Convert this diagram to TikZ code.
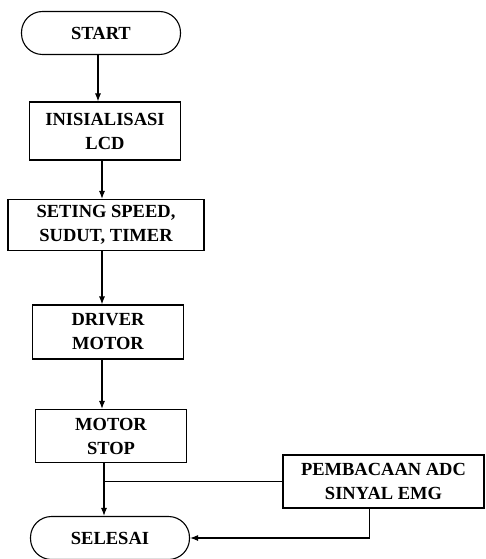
\documentclass[tikz,border=0pt]{standalone}
\usepackage{fontspec}
\setmainfont{Liberation Serif}
\usetikzlibrary{arrows.meta}

\tikzset{
    proses/.style = {draw, line width=1.1pt, align=center, inner sep=0pt,
                     font=\fontsize{18.5}{24}\selectfont\bfseries},
    terminal/.style = {proses, rounded corners=21pt, minimum width=159pt, minimum height=43pt},
    panah/.style = {line width=1.1pt, -{Latex[length=8pt,width=6pt]}}
}

\begin{document}
\begin{tikzpicture}[x=1pt, y=-1pt]
    \useasboundingbox (0,0) rectangle (485,559);

    % Terminal
    \node[terminal] (start) at (101,33) {START};
    \node[terminal] (selesai) at (110,538) {SELESAI};

    % Proses
    \node[proses, minimum width=151pt, minimum height=58pt] (inisial) at (105,131) {INISIALISASI\\LCD};
    \node[proses, minimum width=196pt, minimum height=51pt] (seting) at (106,225) {SETING SPEED,\\SUDUT, TIMER};
    \node[proses, minimum width=151pt, minimum height=54pt] (driver) at (108,332) {DRIVER\\MOTOR};
    \node[proses, minimum width=151pt, minimum height=53pt] (stop) at (111,436) {MOTOR\\STOP};
    \node[proses, minimum width=201pt, minimum height=53pt] (adc) at (383.5,481.5) {PEMBACAAN ADC\\SINYAL EMG};

    % Alur
    \draw[panah] ([xshift=-3pt]start.south) -- ([xshift=-3pt]start.south |- inisial.north);
    \draw[panah] ([xshift=-3pt]inisial.south) -- ([xshift=-3pt]inisial.south |- seting.north);
    \draw[panah] ([xshift=-4pt]seting.south) -- ([xshift=-4pt]seting.south |- driver.north);
    \draw[panah] ([xshift=-6pt]driver.south) -- ([xshift=-6pt]driver.south |- stop.north);
    \draw[panah] ([xshift=-7pt]stop.south) -- ([xshift=-7pt]stop.south |- selesai.north);
    \draw[line width=1.1pt] ([xshift=-7pt]stop.south |- adc.west) -- (adc.west);
    \draw[panah] ([xshift=-14pt]adc.south) |- (selesai.east);
\end{tikzpicture}
\end{document}
